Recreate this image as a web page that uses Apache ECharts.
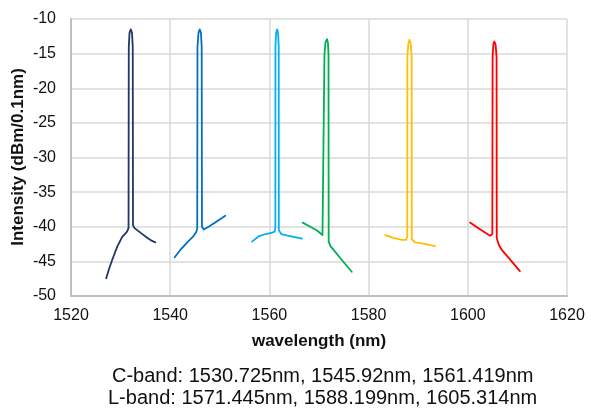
<!DOCTYPE html>
<html>
<head>
<meta charset="utf-8">
<script src="https://cdn.jsdelivr.net/npm/echarts@6/dist/echarts.min.js"></script>
<style>
  html, body { margin: 0; padding: 0; background: #fff; }
  #chart { width: 591px; height: 411px; }
</style>
</head>
<body>
<div id="chart"></div>
<script>
// axis ticks
const xTicks = [1520, 1540, 1560, 1580, 1600, 1620];
const yTicks = [-50, -45, -40, -35, -30, -25, -20, -15, -10];

// spectra: [wavelength nm, intensity dBm/0.1nm]
const specC1 = [[1527.1,-47.45],[1527.6,-46.25],[1528.3,-44.8],[1529.3,-42.9],[1530.3,-41.5],[1531.3,-40.7],[1531.6,-40.2],
  [1531.65,-14],[1531.8,-12.0],[1532.05,-11.5],[1532.3,-12.0],[1532.45,-14],
  [1532.5,-39.75],[1532.8,-40.2],[1534.0,-40.85],[1535.35,-41.6],[1536.35,-42.05],[1537.0,-42.25]];
const specC2 = [[1540.9,-44.4],[1542.05,-43.35],[1543.4,-42.3],[1544.7,-41.35],[1545.3,-40.7],[1545.45,-40.2],
  [1545.5,-14],[1545.7,-12.0],[1545.95,-11.5],[1546.2,-12.0],[1546.35,-14],
  [1546.4,-40.0],[1546.75,-40.4],[1547.75,-40.0],[1549.45,-39.2],[1551.1,-38.4]];
const specC3 = [[1556.5,-42.15],[1557.8,-41.4],[1559.2,-41.05],[1560.4,-40.9],[1561.05,-40.7],[1561.2,-40.2],
  [1561.22,-14],[1561.35,-12.0],[1561.55,-11.5],[1561.75,-12.0],[1561.88,-14],
  [1561.9,-40.5],[1562.4,-41.05],[1563.9,-41.3],[1566.55,-41.7]];
const specL1 = [[1566.7,-39.4],[1568.25,-40.0],[1569.6,-40.55],[1570.7,-41.2],[1571.05,-40.95],
  [1571.1,-15.2],[1571.3,-13.4],[1571.6,-12.9],[1571.8,-13.4],[1571.92,-15.2],
  [1571.95,-42.15],[1572.3,-42.8],[1572.95,-43.35],[1574.6,-44.8],[1576.6,-46.5]];
const specL2 = [[1583.35,-41.2],[1585.0,-41.6],[1586.7,-41.9],[1587.55,-41.9],[1587.8,-41.4],
  [1587.82,-15.3],[1588.02,-13.5],[1588.25,-13.0],[1588.48,-13.5],[1588.68,-15.3],
  [1588.7,-41.8],[1589.4,-42.25],[1591.05,-42.45],[1593.4,-42.8]];
const specL3 = [[1600.45,-39.4],[1602.15,-40.2],[1603.7,-40.95],[1604.5,-41.3],[1604.95,-41.05],
  [1605.0,-15.5],[1605.15,-13.7],[1605.35,-13.25],[1605.6,-13.7],[1605.8,-15.5],
  [1605.84,-41.65],[1606.25,-42.6],[1606.85,-43.35],[1608.5,-44.7],[1610.5,-46.4]];

const spectra = [specC1, specC2, specC3, specL1, specL2, specL3];
const colors = ["#203864", "#0070c0", "#00b0f0", "#00b050", "#ffc000", "#ff0000"];
const yTitle = "Intensity (dBm/0.1nm)";
const captionLines = [
  "C-band: 1530.725nm, 1545.92nm, 1561.419nm",
  "L-band: 1571.445nm, 1588.199nm, 1605.314nm",
];

const chart = echarts.init(document.getElementById("chart"));
const font = "Liberation Sans, Arial, sans-serif";

const captions = captionLines.map((t, i) => ({
  type: "text",
  left: i === 0 ? 112 : 108,
  top: 366 + i * 22,
  style: { text: t, font: "20px " + font, fill: "#111" },
}));

chart.setOption({
  animation: false,
  grid: { left: 71, right: 24, top: 19, bottom: 115, outerBoundsMode: "none" },
  xAxis: {
    type: "value",
    min: xTicks[0],
    max: xTicks[xTicks.length - 1],
    interval: 20,
    name: "wavelength (nm)",
    nameLocation: "middle",
    nameGap: 37,
    nameTextStyle: { fontFamily: font, fontSize: 17, fontWeight: "bold", color: "#111" },
    axisLine: { lineStyle: { color: "#bfbfbf", width: 2 } },
    axisTick: { show: false },
    axisLabel: { fontFamily: font, fontSize: 16, color: "#111", margin: 12, formatter: (v) => String(v) },
    splitLine: { lineStyle: { color: "#d9d9d9", width: 1.5 } },
  },
  yAxis: {
    type: "value",
    min: yTicks[0],
    max: yTicks[yTicks.length - 1],
    interval: 5,
    axisLine: { show: true, lineStyle: { color: "#bfbfbf", width: 2 } },
    axisTick: { show: false },
    axisLabel: { fontFamily: font, fontSize: 16, color: "#111", margin: 15 },
    splitLine: { lineStyle: { color: "#d9d9d9", width: 1.5 } },
  },
  series: spectra.map((d, i) => ({
    type: "line",
    data: d,
    showSymbol: false,
    smooth: false,
    lineStyle: { color: colors[i], width: 1.8, join: "round", cap: "round" },
  })),
  graphic: [
    {
      type: "text",
      x: 18,
      y: 157,
      rotation: Math.PI / 2,
      style: { text: yTitle, font: "bold 17px " + font, fill: "#111", align: "center", verticalAlign: "middle" },
    },
  ].concat(captions),
});
</script>
</body>
</html>
